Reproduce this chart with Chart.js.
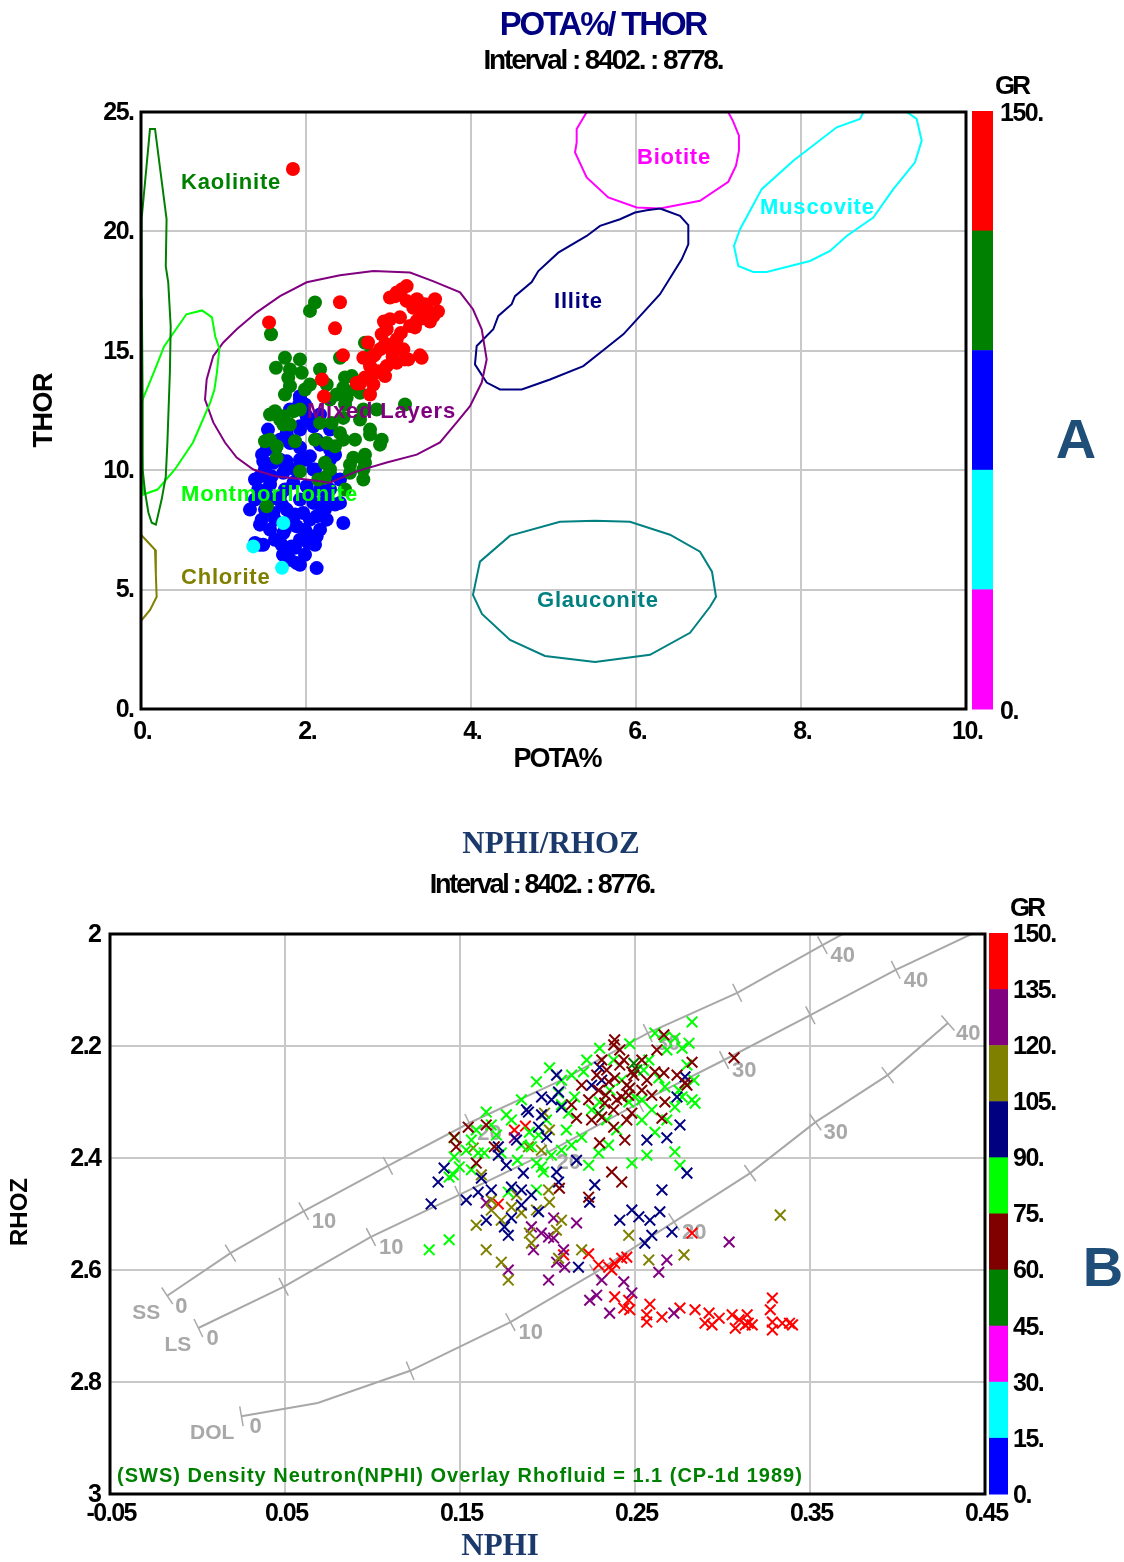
<!DOCTYPE html>
<html>
<head>
<meta charset="utf-8">
<title>POTA%/ THOR - NPHI/RHOZ crossplots</title>
<script src="https://cdn.jsdelivr.net/npm/chart.js@4.4.1/dist/chart.umd.min.js"></script>
<style>
  html, body { margin: 0; padding: 0; background: #fff; }
  #page { position: relative; width: 1124px; height: 1562px; overflow: hidden; background: #fff; }
  canvas { position: absolute; left: 0; }
  #potaThor { top: 0; }
  #nphiRhoz { top: 790px; }
</style>
</head>
<body>
<div id="page">
  <canvas id="potaThor" width="1124" height="790"></canvas>
  <canvas id="nphiRhoz" width="1124" height="772"></canvas>
</div>
<script>
// ================= POTA% / THOR crossplot =================
const potaTicks = [0, 2, 4, 6, 8, 10];
const thorTicks = [0, 5, 10, 15, 20, 25];
const grLabelsA = ['150.', '0.'];

// samples [POTA %, THOR ppm], grouped by GR class
const ptRed = [
  [1.842,22.61],[1.552,16.19],[2.412,17.03],[2.352,15.94],[2.194,13.80],[2.218,13.09],[2.448,14.81],[2.618,13.63],
  [3.22,17.71],[3.10,17.44],[3.018,17.23],[3.22,17.09],[3.564,17.16],[3.463,16.74],[3.382,16.60],[3.543,16.46],
  [3.342,16.25],[3.261,16.04],[3.018,16.32],[2.978,15.90],[2.918,15.69],[3.10,15.48],[2.978,15.27],[3.18,15.06],
  [3.058,14.92],[2.897,15.06],[3.24,14.64],[3.402,14.71],[3.10,14.50],[2.978,14.36],[2.776,14.36],[2.695,14.71],
  [2.816,14.78],[2.958,13.94],[2.816,13.59],[2.776,13.17],[2.615,13.66],[3.45,16.90],[3.50,16.60],[3.40,16.35],
  [3.30,16.80],[3.15,15.75],[2.85,14.10],[3.05,14.75],
  [3.079,17.28],[3.164,17.58],[3.345,17.16],[3.442,16.95],[3.60,16.65],[3.503,16.23],[3.321,15.98],[3.139,16.40],
  [2.958,15.27],[2.836,14.85],[3.042,14.99],[3.20,14.64],[3.382,14.81],[2.715,13.88],[2.873,14.14],[2.752,15.35],
  [2.945,16.23],[2.655,13.63]
];
const ptGreen = [
  [2.109,17.02],[2.048,16.67],[1.576,15.69],[1.745,14.71],[1.636,14.29],[1.948,14.08],[1.785,13.87],[1.806,13.52],
  [2.048,13.59],[2.412,14.71],[2.715,15.34],[2.776,14.85],[2.554,13.94],[2.251,13.59],[2.452,13.45],[2.372,13.17],
  [2.655,13.24],[2.493,13.03],[1.624,12.47],[1.725,12.26],[1.846,12.47],[1.806,11.91],[1.725,11.91],[2.17,11.98],
  [2.311,11.98],[2.452,12.19],[2.695,12.54],[2.857,12.54],[3.20,12.75],[2.776,11.49],[2.918,11.28],[2.412,11.56],
  [2.452,11.28],[2.352,11.00],[1.503,11.21],[1.645,11.00],[1.867,11.21],[2.251,11.14],[2.573,10.52],[2.715,10.31],
  [2.695,10.03],[2.533,9.89],[2.695,9.61],[2.23,10.31],[1.927,9.95],[2.149,9.61],[1.645,10.52],[1.524,8.49],
  [1.927,14.64],[1.806,14.22],[2.17,14.22],[2.473,13.88],[2.594,13.38],[2.291,12.96],[2.473,12.75],[2.655,12.12],
  [1.927,12.54],[1.685,12.12],[1.564,11.28],[2.109,11.28],[2.594,11.28],[2.715,10.65],[2.533,10.23],[2.291,10.03],
  [2.473,9.19],[2.23,9.69],[1.988,13.38],[1.745,13.17],[1.564,12.33],[2.776,11.70],[2.897,11.07]
];
const ptBlue = [
  [1.927,13.10],[1.907,12.68],[2.008,12.26],[2.089,11.84],[1.927,11.84],[2.129,11.28],[1.766,11.56],[2.048,10.58],
  [1.806,11.14],[1.685,11.28],[1.524,10.86],[1.482,10.37],[1.604,10.31],[1.766,10.37],[1.927,10.44],[2.089,10.03],
  [2.291,10.44],[2.291,9.82],[1.442,9.74],[1.584,9.74],[1.725,9.89],[1.846,9.47],[2.008,9.33],[2.17,9.19],
  [1.422,9.19],[1.524,8.91],[1.685,8.91],[1.927,8.77],[2.089,8.63],[2.251,8.77],[2.412,8.63],[1.503,8.35],
  [1.604,8.21],[1.766,8.35],[1.967,8.21],[2.129,8.07],[2.251,7.93],[2.452,7.79],[1.463,7.93],[1.564,7.51],
  [1.725,7.37],[1.887,7.65],[2.008,7.37],[2.129,7.23],[1.382,6.95],[1.482,6.88],[1.705,6.88],[1.826,6.81],
  [2.028,6.95],[1.766,6.46],[1.887,6.11],[2.129,5.90],[1.927,12.96],[2.048,12.12],[1.806,11.28],[1.624,10.86],
  [2.17,11.07],[2.291,11.70],[1.988,10.44],[1.867,10.03],[1.745,9.19],[1.564,8.77],[2.048,8.98],[2.23,8.35],
  [1.806,7.93],[1.927,7.09],[1.624,7.09],[1.442,7.72],[2.17,7.51],[2.291,9.19],[2.412,9.61],[1.988,6.46],
  [1.806,6.25],[1.503,10.03],[1.382,8.77],[1.321,8.35],[1.685,10.44],[2.109,10.03],[2.352,10.65],[1.927,11.70],
  [1.382,9.61],[1.467,10.65],[1.564,9.40],[1.709,8.56],[1.867,8.14],[2.048,7.93],[1.745,7.51],[1.988,7.51],
  [1.624,7.93],[1.442,6.88],[1.867,6.75],[2.109,6.88],[1.721,6.46],[1.927,6.04],[2.17,8.56],[2.352,8.56],
  [1.806,12.54],[1.988,12.75],[2.17,12.33],[1.927,10.95],[1.745,10.23],[1.539,11.70],[2.291,10.86]
];
const ptCyan = [[1.361,6.81],[1.709,5.91],[1.725,7.79]];

// mineral zone outlines [POTA %, THOR ppm]
const kaoliniteZone = [[0.007,20.51],[0.109,24.29],[0.17,24.29],[0.31,20.51],[0.30,18.54],[0.33,17.87],[0.36,16.02],
  [0.35,14.09],[0.32,11.16],[0.30,9.73],[0.25,8.77],[0.18,7.72],[0.13,7.80],[0.09,8.22],[0.05,9.06],[0.02,10.03],
  [0.02,12.96],[0.01,17.16],[0.007,20.51]];
const montmorilloniteZone = [[0.006,12.84],[0.17,14.22],[0.28,15.18],[0.55,16.53],[0.74,16.69],[0.86,16.40],[0.90,15.60],
  [0.95,15.10],[0.92,14.09],[0.89,13.38],[0.84,12.84],[0.63,11.16],[0.41,10.03],[0.20,9.19],[0.03,8.98],[0.01,10.86],
  [0.006,12.84]];
const chloriteZone = [[-0.05,7.6],[0.0,7.30],[0.17,6.67],[0.18,5.62],[0.19,4.70],[0.11,4.15],[0.01,3.73],[-0.05,3.6]];
const mixedLayersZone = [[2.816,18.34],[3.261,18.28],[3.539,17.92],[3.867,17.45],[4.024,16.74],[4.13,15.90],[4.19,14.64],
  [4.13,13.67],[3.988,12.68],[3.827,12.00],[3.624,11.16],[3.342,10.65],[2.978,10.32],[2.615,9.95],[2.29,9.48],
  [2.008,9.61],[1.645,9.74],[1.361,10.03],[1.16,10.53],[1.018,11.16],[0.876,12.00],[0.776,12.96],[0.796,13.80],
  [0.876,14.78],[0.998,15.35],[1.16,15.90],[1.402,16.61],[1.685,17.29],[2.008,17.87],[2.412,18.16],[2.816,18.34]];
const illiteZone = [[6.291,20.96],[6.533,20.65],[6.634,20.26],[6.634,19.46],[6.554,18.83],[6.291,17.37],[5.846,15.69],
  [5.645,15.14],[5.361,14.36],[4.958,13.80],[4.615,13.38],[4.352,13.38],[4.19,13.67],[4.048,14.43],[4.069,15.20],
  [4.27,15.90],[4.331,16.46],[4.493,16.95],[4.533,17.29],[4.736,17.88],[4.816,18.34],[5.058,19.11],[5.402,19.81],
  [5.564,20.23],[5.806,20.51],[5.988,20.79],[6.13,20.89],[6.291,20.96]];
const biotiteZone = [[5.442,25.55],[5.402,24.99],[5.281,24.29],[5.281,23.73],[5.261,23.31],[5.402,22.26],[5.664,21.42],
  [6.008,21.00],[6.291,20.96],[6.776,21.28],[7.119,22.08],[7.212,22.75],[7.248,23.38],[7.248,24.01],[7.176,24.62],
  [7.119,24.99],[7.067,25.55]];
const muscoviteZone = [[8.776,25.13],[9.20,25.20],[9.402,24.71],[9.463,23.80],[9.382,22.89],[9.119,21.77],[8.876,20.58],
  [8.554,19.81],[8.352,19.18],[8.109,18.76],[7.584,18.30],[7.422,18.30],[7.24,18.55],[7.188,19.39],[7.261,20.09],
  [7.524,21.77],[7.907,22.96],[8.433,24.36],[8.715,24.71],[8.776,25.13]];
const glauconiteZone = [[5.503,7.886],[5.927,7.84],[6.412,7.30],[6.776,6.59],[6.921,5.75],[6.97,4.70],[6.897,4.28],
  [6.655,3.19],[6.17,2.27],[5.503,1.97],[4.897,2.22],[4.473,2.89],[4.133,3.98],[4.024,4.78],[4.109,6.17],[4.473,7.26],
  [5.079,7.84],[5.503,7.886]];
const mineralNames = ['Kaolinite','Biotite','Muscovite','Illite','Mixed Layers','Montmorillonite','Chlorite','Glauconite'];

// ================= NPHI / RHOZ crossplot =================
const nphiTicks = [-0.05, 0.05, 0.15, 0.25, 0.35, 0.45];
const rhozTicks = [2, 2.2, 2.4, 2.6, 2.8, 3];
const grLabelsB = ['150.','135.','120.','105.','90.','75.','60.','45.','30.','15.','0.'];

// samples [NPHI, RHOZ], grouped by GR class
const ndRed = [
  [0.1811,2.350],[0.1874,2.343],[0.1719,2.482],[0.2092,2.573],[0.2235,2.571],[0.2292,2.591],[0.2350,2.595],[0.2384,2.588],
  [0.2367,2.600],[0.2424,2.579],[0.2453,2.577],[0.2384,2.648],[0.2464,2.654],[0.2436,2.668],[0.2470,2.671],[0.2585,2.661],
  [0.2567,2.680],[0.2567,2.693],[0.2654,2.684],[0.2757,2.668],[0.2843,2.671],[0.2923,2.677],[0.2900,2.695],[0.2940,2.698],
  [0.2981,2.686],[0.3055,2.680],[0.3095,2.689],[0.3130,2.698],[0.3073,2.704],[0.3147,2.695],[0.3141,2.680],[0.3170,2.698],
  [0.3285,2.650],[0.3273,2.671],[0.3285,2.693],[0.3285,2.707],[0.3342,2.695],[0.3383,2.695],[0.3400,2.698],[0.2826,2.534]
];
const ndPurple = [
  [0.1811,2.364],[0.2035,2.507],[0.2166,2.516],[0.1908,2.523],[0.1965,2.534],[0.2006,2.541],[0.2035,2.543],[0.2092,2.564],
  [0.2098,2.595],[0.1776,2.600],[0.2006,2.618],[0.2436,2.621],[0.2482,2.641],[0.2281,2.645],[0.2241,2.654],[0.2355,2.677],
  [0.2636,2.604],[0.2682,2.582],[0.2722,2.677],[0.3038,2.550],[0.1650,2.480],[0.1920,2.564],[0.2052,2.586],[0.2310,2.618]
];
const ndOlive = [
  [0.1576,2.382],[0.1983,2.320],[0.2011,2.350],[0.1891,2.380],[0.1679,2.475],[0.1679,2.493],[0.2006,2.457],[0.2011,2.479],
  [0.1593,2.520],[0.1650,2.564],[0.1736,2.586],[0.1776,2.618],[0.1897,2.534],[0.1908,2.552],[0.2051,2.529],[0.2080,2.511],
  [0.2063,2.579],[0.2195,2.564],[0.2464,2.538],[0.2579,2.582],[0.2780,2.573],[0.1794,2.488],[0.1851,2.498],[0.1965,2.386],
  [0.3330,2.502],[0.1622,2.430],[0.1823,2.466],[0.1937,2.493],[0.1736,2.511]
];
const ndNavy = [
  [0.2052,2.252],[0.1966,2.291],[0.2080,2.309],[0.2063,2.282],[0.1880,2.314],[0.1949,2.345],[0.1995,2.363],[0.1719,2.380],
  [0.1719,2.395],[0.1409,2.418],[0.1375,2.443],[0.1335,2.482],[0.1622,2.436],[0.1604,2.461],[0.1794,2.452],[0.1862,2.427],
  [0.1851,2.457],[0.1949,2.496],[0.1794,2.507],[0.1754,2.523],[0.1776,2.538],[0.1650,2.511],[0.2052,2.425],[0.2063,2.443],
  [0.2166,2.404],[0.2298,2.238],[0.2252,2.270],[0.2270,2.448],[0.2241,2.479],[0.2413,2.511],[0.2482,2.493],[0.2522,2.505],
  [0.2585,2.511],[0.2642,2.496],[0.2556,2.552],[0.2711,2.532],[0.2654,2.457],[0.2568,2.368],[0.2682,2.364],[0.2757,2.341],
  [0.2797,2.427],[0.2786,2.255],[0.2740,2.291],[0.2177,2.595],[0.2596,2.538],[0.1891,2.318],
  [0.1966,2.323],[0.2023,2.296],[0.1823,2.368],[0.1765,2.413],[0.1679,2.457],[0.1536,2.475],[0.1851,2.484],[0.1908,2.466],
  [0.2310,2.261]
];
const ndLime = [
  [0.2826,2.157],[0.2470,2.196],[0.2614,2.177],[0.2671,2.184],[0.2728,2.186],[0.2769,2.204],[0.2809,2.195],[0.2797,2.234],
  [0.2579,2.225],[0.2636,2.257],[0.2671,2.273],[0.2751,2.279],[0.2837,2.261],[0.2843,2.302],[0.2769,2.291],[0.2728,2.309],
  [0.2596,2.314],[0.2499,2.291],[0.2464,2.300],[0.2614,2.354],[0.2568,2.395],[0.2482,2.409],[0.2728,2.389],[0.2757,2.413],
  [0.2349,2.377],[0.2292,2.391],[0.2235,2.413],[0.2206,2.246],[0.2155,2.291],[0.2120,2.320],[0.2195,2.363],[0.2080,2.261],
  [0.1937,2.264],[0.2063,2.284],[0.1949,2.359],[0.1908,2.380],[0.1937,2.409],[0.1977,2.425],[0.1736,2.391],[0.1650,2.318],
  [0.1639,2.391],[0.1467,2.398],[0.1496,2.416],[0.1462,2.430],[0.1776,2.461],[0.1438,2.546],[0.1324,2.564],[0.1896,2.354],
  [0.2298,2.300],[0.2539,2.296],[0.1467,2.364],[0.1438,2.434],[0.1604,2.391],[0.1965,2.416],[0.1937,2.457],[0.2550,2.243],
  [0.2424,2.261],[0.2338,2.332],[0.2378,2.225],[0.2108,2.350],[0.1794,2.332],[0.1708,2.359],[0.1565,2.368],[0.1851,2.377],
  [0.2080,2.386],[0.2395,2.350],
  [0.2298,2.204],[0.2224,2.225],[0.2138,2.252],[0.2012,2.239],[0.2080,2.305],[0.2252,2.314],[0.2356,2.279],[0.2539,2.332],
  [0.2682,2.332],[0.2826,2.296],[0.2682,2.207],[0.1851,2.296],[0.1765,2.323],[0.1679,2.341],[0.1593,2.350],[0.1536,2.386],
  [0.1565,2.421],[0.1828,2.404],[0.2022,2.395],[0.2137,2.377],[0.1994,2.332]
];
const ndMaroon = [
  [0.2378,2.198],[0.2436,2.225],[0.2482,2.246],[0.2384,2.257],[0.2350,2.264],[0.2424,2.291],[0.2396,2.296],[0.2464,2.288],
  [0.2327,2.302],[0.2292,2.279],[0.2235,2.296],[0.2166,2.329],[0.2310,2.327],[0.2482,2.320],[0.2378,2.345],[0.2442,2.368],
  [0.2298,2.373],[0.2654,2.329],[0.2671,2.300],[0.2614,2.246],[0.2665,2.248],[0.2826,2.229],[0.2797,2.270],[0.2367,2.425],
  [0.2424,2.443],[0.2235,2.470],[0.2068,2.454],[0.1547,2.345],[0.1593,2.409],[0.1467,2.363],[0.1478,2.380],[0.1650,2.341],
  [0.1696,2.380],[0.2665,2.180],[0.3066,2.221],[0.2493,2.252],[0.2786,2.266],[0.2413,2.234],[0.2453,2.270],[0.2539,2.279],
  [0.2338,2.243],[0.2568,2.261],
  [0.2310,2.225],[0.2413,2.207],[0.2281,2.252],[0.2195,2.270],[0.2470,2.275],[0.2596,2.288],[0.2539,2.225],[0.2333,2.288],
  [0.2252,2.332],[0.2137,2.305],[0.2453,2.332],[0.2378,2.314],[0.2625,2.207],[0.2740,2.252],[0.2384,2.189]
];
const ndGreen = [[0.2493,2.231],[0.2292,2.320],[0.2510,2.243]];

// lithology lines [NPHI, RHOZ, porosity p.u. (null = bend only)]
const ssCurve = [[-0.0173,2.646,0],[0.0188,2.570,5],[0.0607,2.495,10],[0.1088,2.414,15],[0.1553,2.3375,20],
  [0.208,2.261,25],[0.2573,2.177,30],[0.3084,2.105,35],[0.3571,2.020,40],[0.3915,1.961,null]];
const lsCurve = [[0.0005,2.7036,0],[0.0492,2.630,5],[0.0991,2.541,10],[0.1495,2.466,15],[0.2006,2.389,20],
  [0.2522,2.302,25],[0.3009,2.225,30],[0.3502,2.145,35],[0.399,2.064,40],[0.4546,1.982,null]];
const dolCurve = [[0.0251,2.861,0],[0.0687,2.8375,null],[0.1215,2.780,5],[0.1788,2.693,10],[0.227,2.605,15],
  [0.2723,2.514,20],[0.3158,2.427,25],[0.3531,2.336,30],[0.3944,2.252,35],[0.4288,2.159,40]];

// ================= styling =================
const SANS = '"Liberation Sans", Arial, sans-serif';
const SERIF = '"Liberation Serif", "Times New Roman", serif';
const GRID = '#C8C8C8';
const LITH_GREY = '#A8A8A8';
const grColoursA = ['#FF0000','#008000','#0000FF','#00FFFF','#FF00FF'];
const grColoursB = ['#FF0000','#800080','#808000','#000080','#00FF00','#800000','#008000','#FF00FF','#00FFFF','#0000FF'];
const mineralStyle = {
  'Kaolinite':       { colour:'#008000', at:[0.485,22.02] },
  'Biotite':         { colour:'#FF00FF', at:[6.012,23.07] },
  'Muscovite':       { colour:'#00FFFF', at:[7.503,21.0] },
  'Illite':          { colour:'#000080', at:[5.006,17.03] },
  'Mixed Layers':    { colour:'#800080', at:[2.012,12.46] },
  'Montmorillonite': { colour:'#00FF00', at:[0.485,8.98] },
  'Chlorite':        { colour:'#808000', at:[0.485,5.50] },
  'Glauconite':      { colour:'#008080', at:[4.80,4.53] }
};

function drawText(ctx, s, x, y, o) {
  ctx.save();
  ctx.font = o.font;
  ctx.fillStyle = o.color || '#000';
  ctx.textBaseline = 'middle';
  ctx.textAlign = 'left';
  const ls = o.ls || 0;
  if ('letterSpacing' in ctx) ctx.letterSpacing = ls + 'px';
  const sx = o.sx || 1;
  let w = ctx.measureText(s).width - ls;
  w *= sx;
  ctx.translate(x, y);
  if (o.rot) ctx.rotate(o.rot);
  const off = o.align === 'center' ? -w / 2 : (o.align === 'right' ? -w : 0);
  ctx.translate(off, 0);
  ctx.scale(sx, 1);
  ctx.fillText(s, 0, 0);
  ctx.restore();
}
const tickFont = { font: 'bold 25px ' + SANS, ls: -1.5 };

function xy(pts) { return pts.map(p => ({ x: p[0], y: p[1] })); }
function outline(pts, colour) {
  return { data: xy(pts), showLine: true, borderColor: colour, borderWidth: 2, pointRadius: 0,
           pointHoverRadius: 0, fill: false, tension: 0 };
}
function dots(pts, colour) {
  return { data: xy(pts), showLine: false, pointRadius: 7, pointHoverRadius: 7,
           backgroundColor: colour, borderColor: colour, pointBorderWidth: 0 };
}
function crosses(pts, colour) {
  return { data: xy(pts), showLine: false, pointStyle: 'crossRot', pointRadius: 7.5, pointHoverRadius: 7.5,
           borderColor: colour, backgroundColor: colour, pointBorderWidth: 2 };
}
function axis(min, max, ticks, size, isX, reverse) {
  return {
    type: 'linear', min, max, reverse: !!reverse,
    afterBuildTicks: s => { s.ticks = ticks.map(v => ({ value: v })); },
    afterFit: s => { if (isX) s.height = size; else s.width = size; },
    ticks: { display: false },
    grid: { color: GRID, lineWidth: 2, drawTicks: false },
    border: { display: false }
  };
}
function frame(ctx, ca) {
  ctx.save();
  ctx.strokeStyle = '#000';
  ctx.lineWidth = 3;
  ctx.strokeRect(ca.left, ca.top, ca.right - ca.left, ca.bottom - ca.top);
  ctx.restore();
}
function colourBar(ctx, colours, x, top, w, bottom) {
  const h = (bottom - top) / colours.length;
  colours.forEach((c, i) => { ctx.fillStyle = c; ctx.fillRect(x, top + i * h, w, h + 0.5); });
}

// ---------------- POTA% / THOR chart ----------------
const potaThorDecor = {
  id: 'potaThorDecor',
  afterDatasetsDraw(chart) {
    const { ctx, chartArea: ca, scales: { x, y } } = chart;
    mineralNames.forEach(n => {
      const st = mineralStyle[n];
      drawText(ctx, n, x.getPixelForValue(st.at[0]), y.getPixelForValue(st.at[1]),
        { font: 'bold 22px ' + SANS, color: st.colour, ls: 0.8 });
    });
    frame(ctx, ca);
    thorTicks.forEach(v => drawText(ctx, v + '.', ca.left - 6, y.getPixelForValue(v) + 1,
      Object.assign({ align: 'right' }, tickFont)));
    potaTicks.forEach(v => drawText(ctx, v + '.', x.getPixelForValue(v) + 2, ca.bottom + 23,
      Object.assign({ align: 'center' }, tickFont)));
    drawText(ctx, 'POTA%/ THOR', 604, 26, { font: 'bold 33px ' + SANS, color: '#000080', ls: -2.2, align: 'center' });
    drawText(ctx, 'Interval : 8402. : 8778.', 604, 61, { font: 'bold 28px ' + SANS, ls: -2.1, align: 'center' });
    drawText(ctx, 'POTA%', 558, 760, { font: 'bold 27px ' + SANS, ls: -2, align: 'center' });
    drawText(ctx, 'THOR', 45, 410, { font: 'bold 27px ' + SANS, ls: -0.5, align: 'center', rot: -Math.PI / 2 });
    colourBar(ctx, grColoursA, ca.right + 6, ca.top - 1, 21, ca.bottom);
    drawText(ctx, 'GR', 1013, 87, { font: 'bold 26px ' + SANS, ls: -3, align: 'center' });
    drawText(ctx, grLabelsA[0], 1000, 114, tickFont);
    drawText(ctx, grLabelsA[1], 1000, 712, tickFont);
    drawText(ctx, 'A', 1076, 443, { font: 'bold 56px ' + SANS, color: '#1F4E79', align: 'center' });
  }
};

new Chart(document.getElementById('potaThor'), {
  type: 'scatter',
  data: {
    datasets: [
      outline(kaoliniteZone, mineralStyle['Kaolinite'].colour),
      outline(montmorilloniteZone, mineralStyle['Montmorillonite'].colour),
      outline(chloriteZone, mineralStyle['Chlorite'].colour),
      outline(mixedLayersZone, mineralStyle['Mixed Layers'].colour),
      outline(illiteZone, mineralStyle['Illite'].colour),
      outline(biotiteZone, mineralStyle['Biotite'].colour),
      outline(muscoviteZone, mineralStyle['Muscovite'].colour),
      outline(glauconiteZone, mineralStyle['Glauconite'].colour),
      dots(ptCyan, '#00FFFF'),
      dots(ptRed, '#FF0000'),
      dots(ptGreen, '#008000'),
      dots(ptBlue, '#0000FF')
    ]
  },
  options: {
    responsive: false, devicePixelRatio: 1, animation: false,
    layout: { padding: { top: 112, right: 158, bottom: 0, left: 0 } },
    plugins: { legend: { display: false }, tooltip: { enabled: false } },
    scales: {
      x: axis(0, 10, potaTicks, 81, true),
      y: axis(0, 25, thorTicks, 141, false)
    }
  },
  plugins: [potaThorDecor]
});

// ---------------- NPHI / RHOZ chart ----------------
function drawLithLine(chart, curve, name) {
  const { ctx, scales: { x, y } } = chart;
  const pts = curve.map(p => [x.getPixelForValue(p[0]), y.getPixelForValue(p[1]), p[2]]);
  ctx.save();
  ctx.strokeStyle = LITH_GREY;
  ctx.lineWidth = 1.5;
  pts.forEach((p, i) => {
    if (p[2] === null) return;
    const a = pts[Math.max(0, i - 1)], b = pts[Math.min(pts.length - 1, i + 1)];
    let dx = b[0] - a[0], dy = b[1] - a[1];
    const L = Math.hypot(dx, dy); dx /= L; dy /= L;
    const nx = -dy, ny = dx;
    ctx.beginPath();
    ctx.moveTo(p[0] - nx * 10, p[1] - ny * 10);
    ctx.lineTo(p[0] + nx * 10, p[1] + ny * 10);
    ctx.stroke();
    if (p[2] % 10 === 0) {
      drawText(ctx, String(p[2]), p[0] + 8, p[1] + 11, { font: 'bold 22px ' + SANS, color: LITH_GREY });
    }
  });
  drawText(ctx, name, pts[0][0] - 7, pts[0][1] + 17, { font: 'bold 21px ' + SANS, color: LITH_GREY, align: 'right' });
  ctx.restore();
}

const nphiRhozDecor = {
  id: 'nphiRhozDecor',
  beforeDatasetsDraw(chart) {
    drawLithLine(chart, ssCurve, 'SS');
    drawLithLine(chart, lsCurve, 'LS');
    drawLithLine(chart, dolCurve, 'DOL');
  },
  afterDatasetsDraw(chart) {
    const { ctx, chartArea: ca, scales: { x, y } } = chart;
    drawText(ctx, '(SWS) Density Neutron(NPHI) Overlay Rhofluid = 1.1 (CP-1d 1989)', 117, 686,
      { font: 'bold 20px ' + SANS, color: '#008000', ls: 1 });
    frame(ctx, ca);
    rhozTicks.forEach(v => drawText(ctx, String(v), ca.left - 8, y.getPixelForValue(v) + 1,
      Object.assign({ align: 'right' }, tickFont)));
    nphiTicks.forEach(v => drawText(ctx, String(v), x.getPixelForValue(v) + 2, ca.bottom + 20,
      Object.assign({ align: 'center' }, tickFont)));
    drawText(ctx, 'NPHI/RHOZ', 551, 55, { font: 'bold 31px ' + SERIF, color: '#1B3A6B', align: 'center' });
    drawText(ctx, 'Interval : 8402. : 8776.', 543, 96, { font: 'bold 27px ' + SANS, ls: -2.3, align: 'center' });
    drawText(ctx, 'NPHI', 500, 757, { font: 'bold 31px ' + SERIF, color: '#1B3A6B', align: 'center' });
    drawText(ctx, 'RHOZ', 20, 422, { font: 'bold 24px ' + SANS, align: 'center', rot: -Math.PI / 2 });
    const top = ca.top - 1, bottom = ca.bottom;
    colourBar(ctx, grColoursB, ca.right + 4, top, 19, bottom);
    drawText(ctx, 'GR', 1028, 119, { font: 'bold 26px ' + SANS, ls: -3, align: 'center' });
    const step = (bottom - top) / (grLabelsB.length - 1);
    grLabelsB.forEach((s, i) => drawText(ctx, s, 1013, top + i * step + 2, tickFont));
    drawText(ctx, 'B', 1103, 481, { font: 'bold 56px ' + SANS, color: '#1F4E79', align: 'center' });
  }
};

new Chart(document.getElementById('nphiRhoz'), {
  type: 'scatter',
  data: {
    datasets: [
      crosses(ndMaroon, '#800000'),
      crosses(ndGreen, '#008000'),
      crosses(ndNavy, '#000080'),
      crosses(ndLime, '#00FF00'),
      crosses(ndOlive, '#808000'),
      crosses(ndPurple, '#800080'),
      crosses(ndRed, '#FF0000'),
      outline(ssCurve, LITH_GREY),
      outline(lsCurve, LITH_GREY),
      outline(dolCurve, LITH_GREY)
    ]
  },
  options: {
    responsive: false, devicePixelRatio: 1, animation: false,
    layout: { padding: { top: 144, right: 139, bottom: 0, left: 0 } },
    plugins: { legend: { display: false }, tooltip: { enabled: false } },
    scales: {
      x: axis(-0.05, 0.45, nphiTicks, 68, true),
      y: axis(2, 3, rhozTicks, 110, false, true)
    }
  },
  plugins: [nphiRhozDecor]
});
</script>
</body>
</html>
